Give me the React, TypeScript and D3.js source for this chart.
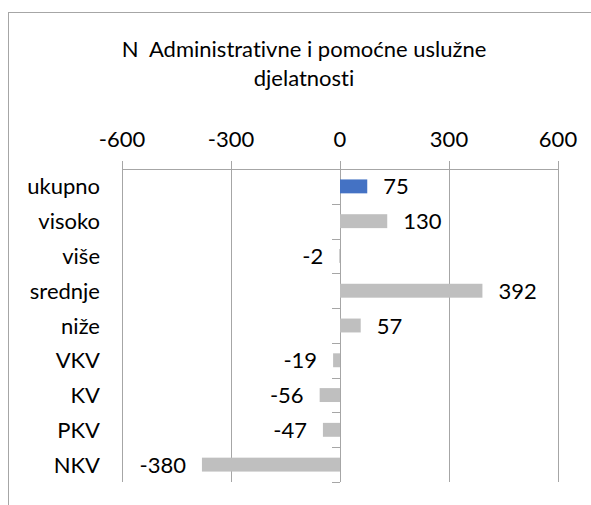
import React from "react";
import * as d3 from "d3";

const titleLines = ["N  Administrativne i pomoćne uslužne", "djelatnosti"];
const categories = ["ukupno", "visoko", "više", "srednje", "niže", "VKV", "KV", "PKV", "NKV"];
const values = [75, 130, -2, 392, 57, -19, -56, -47, -380];
const tickValues = [-600, -300, 0, 300, 600];
const highlight = "ukupno";

const FONT = "Lato, 'Open Sans', sans-serif";
const FS = 22;

export default function App() {
  const W = 591, H = 505;
  const x = d3.scaleLinear().domain([-600, 600]).range([122, 558]);
  const y = d3.scaleBand<string>().domain(categories).range([169, 482]).paddingInner(0.6).paddingOuter(0.3);
  const step = y.step();
  const [top, bottom] = y.range();
  const grid = "#A6A6A6";
  const data = categories.map((c, i) => ({ c, v: values[i] }));
  const textStyle: React.CSSProperties = { fontVariantLigatures: "none", whiteSpace: "pre" };

  return (
    <svg width={W} height={H} style={{ position: "absolute", left: 0, top: 0, background: "#fff" }} fontFamily={FONT}>
      <rect x={0} y={0} width={W} height={H} fill="#fff" />
      <rect x={8.5} y={12.5} width={700} height={700} fill="none" stroke={grid} strokeWidth={1} />
      {titleLines.map((t, i) => (
        <text key={i} x={304} y={57 + i * 28.5} textAnchor="middle" fontSize={FS} fill="#000" style={textStyle} xmlSpace="preserve">{t}</text>
      ))}
      {tickValues.map((t) => (
        <g key={t}>
          <line x1={Math.round(x(t)) + 0.5} x2={Math.round(x(t)) + 0.5} y1={161} y2={bottom} stroke={grid} />
          <text x={x(t)} y={147} textAnchor="middle" fontSize={FS} fill="#000" style={textStyle}>{t}</text>
        </g>
      ))}
      <line x1={x(-600)} x2={x(600)} y1={top + 0.5} y2={top + 0.5} stroke={grid} />
      {d3.range(1, categories.length + 1).map((i) => (
        <line key={i} x1={x(0) - 8} x2={x(0)} y1={Math.round(top + i * step) + 0.5} y2={Math.round(top + i * step) + 0.5} stroke={grid} />
      ))}
      {data.map((d) => {
        const yc = (y(d.c) as number) + y.bandwidth() / 2;
        return (
          <g key={d.c}>
            <text x={100} y={yc + 8} textAnchor="end" fontSize={FS} fill="#000" style={textStyle}>{d.c}</text>
            <rect
              x={Math.min(x(0), x(d.v))}
              y={y(d.c)}
              width={Math.abs(x(d.v) - x(0))}
              height={y.bandwidth()}
              fill={d.c === highlight ? "#4472C4" : "#BFBFBF"}
            />
            <text
              x={d.v >= 0 ? x(d.v) + 16 : x(d.v) - 16}
              y={yc + 8}
              textAnchor={d.v >= 0 ? "start" : "end"}
              fontSize={FS}
              fill="#000"
              style={textStyle}
            >{d.v}</text>
          </g>
        );
      })}
    </svg>
  );
}
